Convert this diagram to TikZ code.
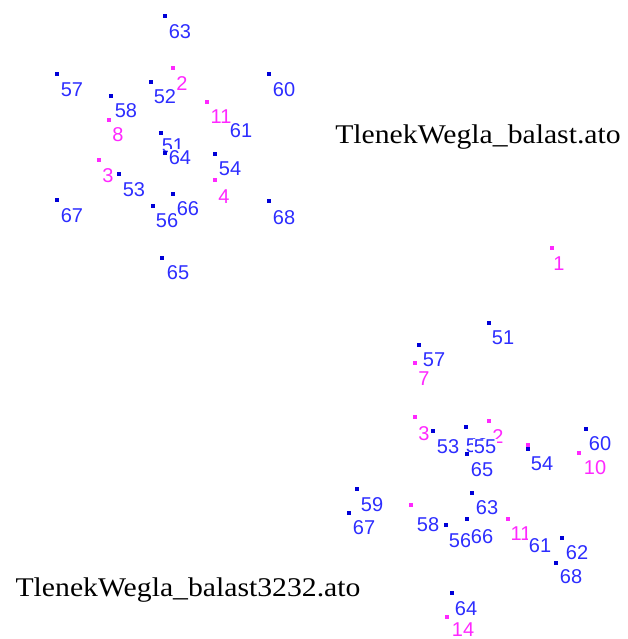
\documentclass[tikz,border=0pt]{standalone}
\usepackage{fontspec}
\setmainfont{Liberation Serif}
\newfontfamily\numfont{Liberation Sans}

\definecolor{atomblue}{RGB}{45,45,255}
\definecolor{atommag}{RGB}{255,40,255}
\definecolor{dotblue}{RGB}{0,0,215}

\tikzset{
  numlabel/.style={fill=white, inner xsep=0.8pt, inner ysep=1.5pt,
    font=\numfont\fontsize{20}{20}\selectfont},
  ptdot/.style={rectangle, minimum size=3.3pt, inner sep=0pt},
  filename/.style={inner sep=0pt, font=\fontsize{27}{27}\selectfont}
}

\begin{document}
\begin{tikzpicture}[x=1pt,y=-1pt]

\useasboundingbox (0,0) rectangle (627,639);

% first molecule
\foreach \lab/\col/\lx/\ly in {51/atomblue/173/146, 64/atomblue/180/158,
  63/atomblue/180/32, 57/atomblue/72/90, 52/atomblue/165/97, 2/atommag/182/84,
  60/atomblue/284/90, 58/atomblue/126/111, 8/atommag/118/135, 61/atomblue/241/131,
  11/atommag/221/117, 54/atomblue/230/169, 4/atommag/224/197, 3/atommag/108/176,
  53/atomblue/134/190, 67/atomblue/72/216, 56/atomblue/167/221, 66/atomblue/188/209,
  68/atomblue/284/218, 65/atomblue/178/273}
  \node[numlabel, text=\col] (a\lab) at (\lx,\ly) {\lab};

\foreach \col/\dx/\dy [count=\i] in {dotblue/165/16, dotblue/57/74, dotblue/151/82,
  dotblue/269/74, dotblue/111/96, dotblue/161/133, dotblue/165/153, dotblue/215/154,
  dotblue/119/174, dotblue/57/200, dotblue/173/194, dotblue/153/206, dotblue/269/201,
  dotblue/162/258, atommag/173/68, atommag/109/120, atommag/207/102, atommag/99/160,
  atommag/215/180}
  \node[ptdot, fill=\col] (pa\i) at (\dx,\dy) {};

% second molecule
\foreach \lab/\col/\lx/\ly in {1/atommag/559/264, 51/atomblue/503/338,
  7/atommag/424/379, 57/atomblue/434/360, 3/atommag/424/434, 53/atomblue/448/447,
  52/atomblue/477/446, 2/atommag/498/437, 55/atomblue/485/447, 65/atomblue/482/470,
  54/atomblue/542/464, 60/atomblue/600/444, 10/atommag/595/468, 59/atomblue/372/505,
  67/atomblue/364/528, 58/atomblue/428/525, 63/atomblue/487/508, 56/atomblue/460/541,
  66/atomblue/482/537, 11/atommag/521/534, 61/atomblue/540/546, 62/atomblue/577/553,
  68/atomblue/571/577, 64/atomblue/466/609, 14/atommag/463/630}
  \node[numlabel, text=\col] (b\lab) at (\lx,\ly) {\lab};

\foreach \col/\dx/\dy [count=\i] in {atommag/552/248, dotblue/489/323, dotblue/419/345,
  atommag/415/363, atommag/415/417, dotblue/433/431, dotblue/466/427, atommag/489/421,
  dotblue/467/454, atommag/528/445, dotblue/528/449, dotblue/586/429, atommag/579/453,
  dotblue/357/489, dotblue/349/513, atommag/411/505, dotblue/446/525, dotblue/467/519,
  dotblue/472/493, atommag/508/519, dotblue/562/538, dotblue/556/563, dotblue/452/593,
  atommag/447/617}
  \node[ptdot, fill=\col] (pb\i) at (\dx,\dy) {};

\node[filename] (fileA) at (478,137) {\scalebox{1.1}[1]{TlenekWegla\_balast.ato}};
\node[filename] (fileB) at (188,590) {\scalebox{1.1}[1]{TlenekWegla\_balast3232.ato}};

\end{tikzpicture}
\end{document}
